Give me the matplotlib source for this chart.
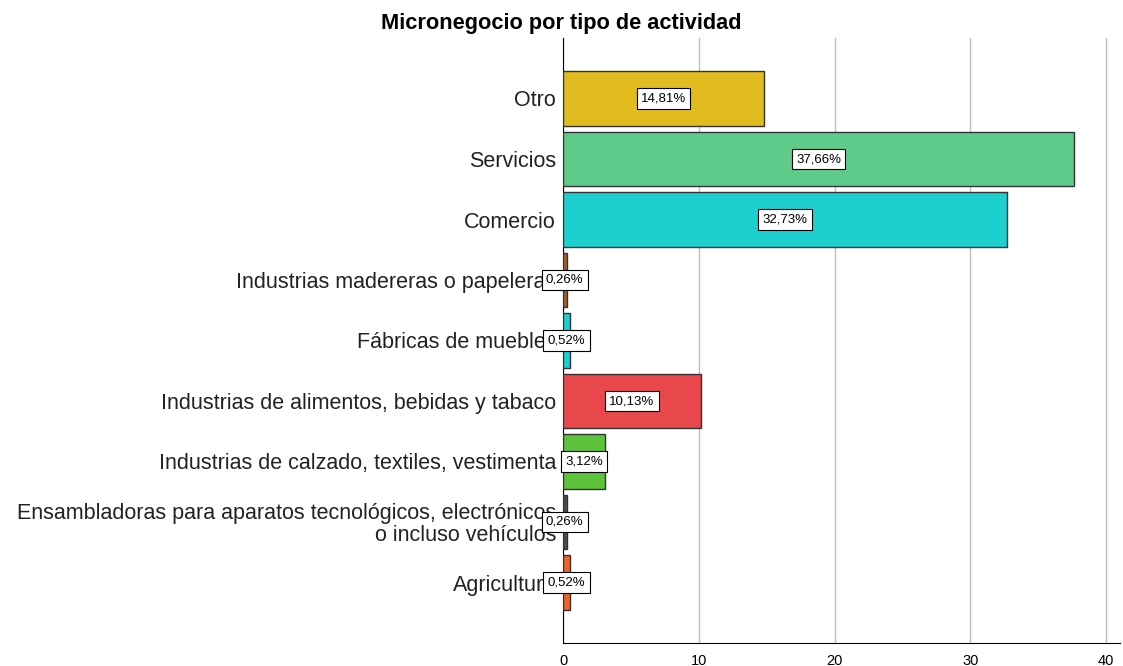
import matplotlib.pyplot as plt

# categories listed bottom to top
categories = [
    "Agricultura",
    "Ensambladoras para aparatos tecnológicos, electrónicos\no incluso vehículos",
    "Industrias de calzado, textiles, vestimenta",
    "Industrias de alimentos, bebidas y tabaco",
    "Fábricas de muebles",
    "Industrias madereras o papeleras",
    "Comercio",
    "Servicios",
    "Otro",
]
values = [0.52, 0.26, 3.12, 10.13, 0.52, 0.26, 32.73, 37.66, 14.81]
labels = ["0,52%", "0,26%", "3,12%", "10,13%", "0,52%", "0,26%", "32,73%", "37,66%", "14,81%"]
colors = ["#F06423", "#4D4D4D", "#5CC33A", "#E8474C", "#1DCFCF",
          "#A0602D", "#1DCFCF", "#5FCB8A", "#E0BC1E"]

plt.rcParams['font.family'] = ['Liberation Sans', 'DejaVu Sans']

fig = plt.figure(figsize=(11.23, 6.66), dpi=100)
ax = fig.add_axes([563 / 1123, 1 - 643 / 666, (1120 - 563) / 1123, (643 - 38) / 666])

pos = list(range(len(categories)))
ax.barh(pos, values, height=0.9, color=colors, edgecolor="#333333", linewidth=1, zorder=3)

for p, v, lab in zip(pos, values, labels):
    ax.text(v / 2, p, lab, ha="center", va="center", fontsize=9.5, color="black", zorder=5,
            bbox=dict(boxstyle="square,pad=0.32", facecolor="white", edgecolor="black", linewidth=0.8))

ax.set_yticks(pos)
ax.set_yticklabels(categories, fontsize=15.5, color="#222222", linespacing=1.05)
ax.set_ylim(-1, len(categories))
ax.set_xlim(0, 41.03)
ax.set_xticks([0, 10, 20, 30, 40])
ax.tick_params(axis="both", length=0)
ax.tick_params(axis="y", pad=5)
ax.tick_params(axis="x", labelsize=10.5, pad=8)
for lab in ax.get_yticklabels():
    lab.set_zorder(1)

ax.grid(axis="x", color="#BDBDBD", linewidth=1, zorder=0)
ax.spines["top"].set_visible(False)
ax.spines["right"].set_visible(False)
ax.spines["left"].set_color("black")
ax.spines["bottom"].set_color("black")

fig.suptitle("Micronegocio por tipo de actividad", x=0.5, y=0.98, fontsize=15.7, fontweight="bold")

fig.savefig("out.png", dpi=100)
